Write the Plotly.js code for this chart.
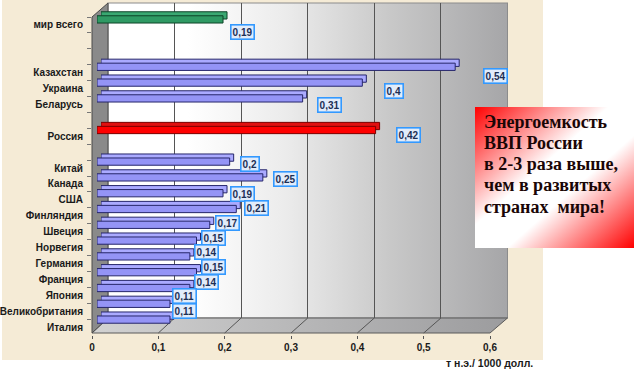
<!DOCTYPE html>
<html>
<head>
<meta charset="utf-8">
<script src="https://cdn.plot.ly/plotly-3.0.1.min.js"></script>
<style>html,body{margin:0;padding:0;background:#fff;}#chart{width:637px;height:374px;}</style>
</head>
<body>
<div id="chart"></div>
<script>
// ---- data ----
const categories = ['мир всего',' ','  ','Казахстан','Украина','Беларусь','   ','Россия','    ',
  'Китай','Канада','США','Финляндия','Швеция','Норвегия','Германия','Франция','Япония','Великобритания','Италия'];
const values = [0.19,null,null,0.54,0.4,0.31,null,0.42,null,
  0.2,0.25,0.19,0.21,0.17,0.15,0.14,0.15,0.14,0.11,0.11];
const xTicks = [0,0.1,0.2,0.3,0.4,0.5,0.6];
const axisTitle = 'т н.э./ 1000 долл.';
const noteLines = ['Энергоемкость','ВВП России','в 2-3 раза выше,','чем в развитых','странах  мира!'];

// ---- geometry helpers (pixel -> paper) ----
const W = 637, H = 374;
const fx = p => p / W;
const fy = p => 1 - p / H;
const dx = (a, b) => [fx(a), fx(b)];
const dy = (top, bottom) => [fy(bottom), fy(top)];
const N = categories.length;
const idx = categories.map((c, i) => i);

function frontColor(c){ return c==='Россия' ? '#ff0000' : (c==='мир всего' ? '#2f9a64' : '#9494f6'); }
function depthColor(c){ return c==='Россия' ? '#e01010' : (c==='мир всего' ? '#3aa872' : '#aaaaff'); }
function edgeColor(c){ return c==='Россия' ? '#7a0000' : (c==='мир всего' ? '#0d4428' : '#26266a'); }

// ---- decoration image (walls, floor, background) ----
const backL = 108, backR = 507.5, backT = 3, backB = 318;
const frontL = 92, frontR = 490, frontB = 333;
const xb = v => backL + (backR - backL) * v / 0.6;
const xf = v => frontL + (frontR - frontL) * v / 0.6;
let floorGrid = '';
xTicks.slice(1, -1).forEach(v => {
  floorGrid += `<line x1="${xb(v)}" y1="${backB}" x2="${xf(v)}" y2="${frontB}" stroke="#555" stroke-width="1"/>`;
});
const deco = `<svg xmlns="http://www.w3.org/2000/svg" width="${W}" height="${H}" viewBox="0 0 ${W} ${H}" preserveAspectRatio="none">
<defs>
<linearGradient id="wall" x1="0" y1="0" x2="1" y2="0">
<stop offset="0" stop-color="#ffffff"/><stop offset="0.2" stop-color="#ffffff"/>
<stop offset="0.45" stop-color="#ebebeb"/><stop offset="0.7" stop-color="#c9c9c9"/>
<stop offset="1" stop-color="#a6a6a8"/></linearGradient>
<linearGradient id="floor" x1="0" y1="0" x2="1" y2="0">
<stop offset="0" stop-color="#d2d2d2"/><stop offset="1" stop-color="#9c9c9e"/></linearGradient>
</defs>
<rect x="0" y="0" width="${W}" height="${H}" fill="#ffffff"/>
<rect x="2" y="0" width="541" height="360" fill="#f5ebd6"/>
<rect x="${backL}" y="${backT}" width="${backR-backL}" height="${backB-backT}" fill="url(#wall)" stroke="#8c8c8c" stroke-width="1"/>
<polygon points="${frontL},${frontB} ${backL},${backB} ${backR},${backB} ${frontR},${frontB}" fill="url(#floor)" stroke="#5a5a5a" stroke-width="1"/>
${floorGrid}
<polygon points="${frontL},17 ${backL},${backT} ${backL},${backB} ${frontL},${frontB}" fill="#8a8a8a" stroke="#4a4a4a" stroke-width="1"/>
</svg>`;

const box = `<svg xmlns="http://www.w3.org/2000/svg" width="160" height="141" viewBox="0 0 160 141" preserveAspectRatio="none">
<defs><linearGradient id="g" x1="0" y1="0" x2="1" y2="1">
<stop offset="0" stop-color="#ff0000"/><stop offset="0.42" stop-color="#ffffff"/>
<stop offset="0.6" stop-color="#ffffff"/><stop offset="1" stop-color="#ff0000"/></linearGradient></defs>
<rect x="0" y="0" width="160" height="141" fill="url(#g)"/></svg>`;
const uri = s => 'data:image/svg+xml;charset=utf-8,' + encodeURIComponent(s);

// ---- traces ----
const font = 'Liberation Sans, Arial, sans-serif';
const traces = [
  {type:'scatter', x:[0], y:[0], mode:'markers', marker:{opacity:0}, xaxis:'x', yaxis:'y', hoverinfo:'skip', showlegend:false},
  // bar depth (top / end faces)
  {type:'bar', orientation:'h', x:values, y:idx, xaxis:'x2', yaxis:'y2', width:0.46,
   marker:{color:categories.map(depthColor), line:{color:categories.map(edgeColor), width:1}},
   hoverinfo:'skip', showlegend:false},
  // bar front faces
  {type:'bar', orientation:'h', x:values, y:idx, xaxis:'x3', yaxis:'y3', width:0.46,
   marker:{color:categories.map(frontColor), line:{color:categories.map(edgeColor), width:1}},
   hoverinfo:'skip', showlegend:false},
  {type:'scatter', x:[0], y:[0], mode:'markers', marker:{opacity:0}, xaxis:'x4', yaxis:'y4', hoverinfo:'skip', showlegend:false},
  {type:'scatter', x:categories.map(()=>0), y:categories, mode:'markers', marker:{opacity:0}, xaxis:'x5', yaxis:'y5', hoverinfo:'skip', showlegend:false}
];

const hidden = {showgrid:false, zeroline:false, showticklabels:false, ticks:'', showline:false, fixedrange:true};
const catRange = [N - 0.5, -0.5];

const annotations = [];
values.forEach((v, i) => {
  if (v === null) return;
  annotations.push({xref:'x4', yref:'y4', x:v, y:i, text:'<b>' + String(v).replace('.', ',') + '</b>', showarrow:false,
    xanchor:'center', yanchor:'middle',
    font:{family:font, size:10, color:'#1c2f55'},
    bgcolor:'#e2ecfa', bordercolor:'#3399ff', borderwidth:1.6, borderpad:1});
});
annotations.push({xref:'paper', yref:'paper', x:fx(535), y:fy(363), xanchor:'right', yanchor:'middle',
  text:'<b>' + axisTitle + '</b>', showarrow:false, font:{family:font, size:10.5, color:'#1a1a1a'}});
const noteY = [121.5, 142.5, 163.5, 185, 206.5];
noteLines.forEach((t, i) => {
  annotations.push({xref:'paper', yref:'paper', x:fx(482), y:fy(noteY[i]), xanchor:'left', yanchor:'middle',
    text:'<b>' + t + '</b>', showarrow:false, font:{family:'Liberation Serif, Times New Roman, serif', size:18, color:'#1a0606'}});
});

const layout = {
  width:W, height:H, margin:{l:0,r:0,t:0,b:0}, showlegend:false,
  paper_bgcolor:'rgba(0,0,0,0)', plot_bgcolor:'rgba(0,0,0,0)', separators:', ',
  font:{family:font},
  xaxis:Object.assign({}, hidden, {domain:dx(backL, backR), range:[0,0.6], anchor:'y',
    showgrid:true, gridcolor:'#555555', gridwidth:1, tickmode:'array', tickvals:xTicks.slice(1,-1)}),
  yaxis:Object.assign({}, hidden, {domain:dy(backT, backB), range:[0,1], anchor:'x'}),
  xaxis2:Object.assign({}, hidden, {domain:dx(101, 499), range:[0,0.6], anchor:'y2'}),
  yaxis2:Object.assign({}, hidden, {domain:dy(7.5, 323.5), range:catRange, anchor:'x2'}),
  xaxis3:Object.assign({}, hidden, {domain:dx(97, 495), range:[0,0.6], anchor:'y3'}),
  yaxis3:Object.assign({}, hidden, {domain:dy(11.5, 327.5), range:catRange, anchor:'x3'}),
  xaxis4:Object.assign({}, hidden, {domain:dx(104.8, 539.2), range:[0,0.6], anchor:'y4'}),
  yaxis4:Object.assign({}, hidden, {domain:dy(24.66, 318.34), range:catRange, anchor:'x4'}),
  xaxis5:{domain:dx(frontL, frontR), range:[0,0.6], anchor:'y5', tickmode:'array', tickvals:xTicks,
    ticks:'outside', ticklen:3, tickcolor:'#555', showgrid:false, zeroline:false, showline:false,
    tickfont:{family:font, size:10, color:'#1a1a1a', weight:'bold'}, fixedrange:true},
  yaxis5:{domain:dy(17, 335), type:'category', categoryorder:'array', categoryarray:categories,
    range:catRange, anchor:'x5', ticks:'outside', tickson:'boundaries', ticklen:4, tickcolor:'#777',
    ticklabelstandoff:8, showgrid:false, zeroline:false, showline:false,
    tickfont:{family:font, size:10, color:'#1a1a1a', weight:'bold'}, fixedrange:true},
  images:[
    {source:uri(deco), xref:'paper', yref:'paper', x:0, y:1, sizex:1, sizey:1,
     xanchor:'left', yanchor:'top', sizing:'stretch', layer:'below'},
    {source:uri(box), xref:'paper', yref:'paper', x:fx(475), y:fy(107), sizex:fx(634)-fx(475), sizey:fy(107)-fy(248),
     xanchor:'left', yanchor:'top', sizing:'stretch', layer:'above'}
  ],
  annotations:annotations
};

Plotly.newPlot('chart', traces, layout, {displayModeBar:false, staticPlot:true});
</script>
</body>
</html>
